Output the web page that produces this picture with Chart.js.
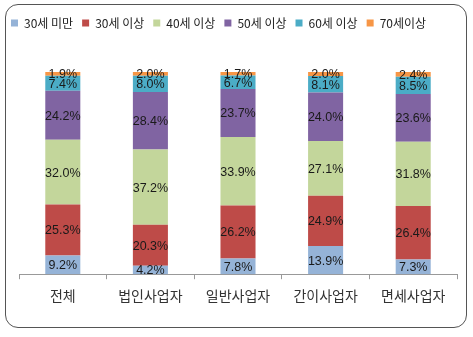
<!DOCTYPE html>
<html><head><meta charset="utf-8">
<script src="https://cdn.jsdelivr.net/npm/chart.js@4"></script>
<style>
html,body{margin:0;padding:0;background:#fff;}
#wrap{position:relative;width:473px;height:337px;}
#frame{position:absolute;left:5px;top:4px;width:462px;height:324px;border:1.5px solid #555;border-radius:13px;box-sizing:border-box;}
canvas{position:absolute;left:0;top:0;}
</style></head>
<body><div id="wrap"><div id="frame"></div><canvas id="c" width="473" height="337"></canvas></div>
<script>
const categories = ['전체','법인사업자','일반사업자','간이사업자','면세사업자'];
const seriesNames = ['30세 미만','30세 이상','40세 이상','50세 이상','60세 이상','70세이상'];
const under30 = [9.2, 4.2, 7.8, 13.9, 7.3];
const age30 = [25.3, 20.3, 26.2, 24.9, 26.4];
const age40 = [32.0, 37.2, 33.9, 27.1, 31.8];
const age50 = [24.2, 28.4, 23.7, 24.0, 23.6];
const age60 = [7.4, 8.0, 6.7, 8.1, 8.5];
const age70 = [1.9, 2.0, 1.7, 2.0, 2.4];
const colors = ['#95B3D7','#BE4B48','#C3D69B','#8064A2','#4BACC6','#F79646'];
const seriesData = [under30, age30, age40, age50, age60, age70];

const labelPlugin = {
  id: 'segLabels',
  afterDatasetsDraw(chart) {
    const ctx = chart.ctx;
    ctx.save();
    ctx.font = '12.5px "Liberation Sans", Arial, sans-serif';
    ctx.fillStyle = '#1a1a1a';
    ctx.textAlign = 'center';
    ctx.textBaseline = 'middle';
    chart.data.datasets.forEach((ds, i) => {
      const meta = chart.getDatasetMeta(i);
      meta.data.forEach((bar, j) => {
        const v = ds.data[j];
        const y = (bar.y + bar.base) / 2;
        ctx.fillText(v.toFixed(1) + '%', bar.x, y + 1);
      });
    });
    ctx.restore();
  }
};

const legendMargin = {
  id: 'legendMargin',
  beforeInit(chart) {
    const f = chart.legend.fit;
    chart.legend.fit = function () { f.bind(chart.legend)(); this.height += 33; };
  }
};

new Chart(document.getElementById('c'), {
  type: 'bar',
  data: {
    labels: categories,
    datasets: seriesNames.map((n, i) => ({
      label: n,
      data: seriesData[i],
      backgroundColor: colors[i],
      borderWidth: 0,
      barPercentage: 0.4,
      categoryPercentage: 1.0
    }))
  },
  options: {
    responsive: false,
    animation: false,
    layout: { padding: { left: 2, right: 16, top: 8, bottom: 25 } },
    plugins: {
      tooltip: { enabled: false },
      legend: {
        position: 'top',
        align: 'start',
        labels: {
          boxWidth: 7, boxHeight: 7, padding: 9,
          color: '#222',
          font: { family: '"Noto Sans CJK KR", sans-serif', size: 12 }
        }
      }
    },
    scales: {
      x: {
        stacked: true,
        grid: { display: true, drawOnChartArea: false, drawTicks: true, tickLength: 5, offset: true, color: '#999' },
        border: { display: true, color: '#999' },
        ticks: { color: '#333', padding: 8, font: { family: '"Noto Sans CJK KR", sans-serif', size: 14 } }
      },
      y: {
        stacked: true,
        display: true,
        min: 0, max: 100,
        grid: { display: false },
        border: { display: false },
        ticks: { display: false },
        afterFit(scale) { scale.width = 17; }
      }
    }
  },
  plugins: [labelPlugin, legendMargin]
});
</script></body></html>
